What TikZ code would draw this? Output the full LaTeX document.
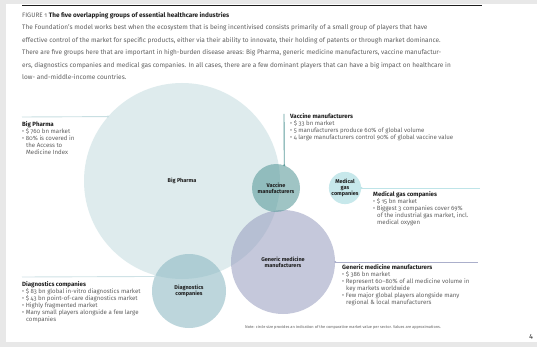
\documentclass[tikz,border=0pt]{standalone}
\usepackage{fontspec}
\setmainfont{Fira Sans}[Numbers=OldStyle]
\usetikzlibrary{positioning}
\definecolor{pagegray}{RGB}{232,232,232}
\definecolor{bpfill}{RGB}{200,223,226}
\definecolor{vacfill}{RGB}{95,158,158}
\definecolor{gasfill}{RGB}{190,228,232}
\definecolor{genfill}{RGB}{150,155,190}
\definecolor{diafill}{RGB}{135,182,192}
\definecolor{bodytext}{RGB}{95,95,95}
\definecolor{headtext}{RGB}{30,30,30}

\begin{document}
\begin{tikzpicture}[x=1pt,y=-1pt,
    bubble/.style={circle,inner sep=0pt,align=center,text=headtext,
      font=\bfseries\fontsize{5.5}{6}\selectfont},
    info/.style={anchor=north west,align=left,inner sep=0pt,text=bodytext,
      font=\fontsize{6.1}{7}\selectfont},
    lead/.style={line width=0.9pt},
    tip/.style={circle,fill,inner sep=0pt,minimum size=2.4pt}]
    % page
    \fill[pagegray] (0,0) rectangle (537,347);
    \fill[white] (6,4) rectangle (537,342);
    \draw[headtext,line width=0.8pt] (22,5) -- (482,5);
    % header
    \node[anchor=north west,inner sep=0pt,text=bodytext,font=\fontsize{6.4}{12.5}\selectfont] (fig) at (22,12)
      {FIGURE 1 {\bfseries\color{headtext}The five overlapping groups of essential healthcare industries}};
    \node[anchor=north west,inner sep=0pt,align=left,text=bodytext,font=\fontsize{6.5}{12.5}\selectfont] (intro) at (22,24.5)
      {The Foundation’s model works best when the ecosystem that is being incentivised consists primarily of a small group of players that have\\
       effective control of the market for specific products, either via their ability to innovate, their holding of patents or through market dominance.\\
       There are five groups here that are important in high-burden disease areas: Big Pharma, generic medicine manufacturers, vaccine manufactur-\\
       ers, diagnostics companies and medical gas companies. In all cases, there are a few dominant players that can have a big impact on healthcare in\\
       low- and-middle-income countries.};
    % circles
    \node[bubble,fill=bpfill,fill opacity=0.6,text opacity=1,minimum size=196pt] (bp) at (182,181) {Big Pharma};
    \node[bubble,fill=genfill,fill opacity=0.55,text opacity=1,minimum size=104pt] (gen) at (283,262) {Generic medicine\\manufacturers};
    \node[bubble,fill=diafill,fill opacity=0.55,text opacity=1,minimum size=74pt] (dia) at (189,291) {Diagnostics\\companies};
    \node[bubble,fill=vacfill,fill opacity=0.6,text opacity=1,minimum size=48pt] (vac) at (276,188) {Vaccine\\manufacturers};
    \node[bubble,fill=gasfill,fill opacity=0.85,text opacity=1,minimum size=31pt] (gas) at (345,188) {Medical\\gas\\companies};
    % leader lines
    \coordinate (bpEnd) at (22,117);
    \coordinate (vacEnd) at (284,114);
    \coordinate (gasEnd) at (480,188);
    \coordinate (genEnd) at (478,262);
    \coordinate (diaEnd) at (22,277);
    \draw[lead,bpfill] (bpEnd) -- (bp.139.5) node[tip] {};
    \draw[lead,vacfill] (vacEnd) -- (vac.70.5) node[tip] {};
    \draw[lead,gasfill] (gas.east) node[tip] {} -- (gasEnd);
    \draw[lead,genfill!80] (gen.east) node[tip] {} -- (genEnd);
    \draw[lead,diafill!40] (diaEnd) -- (dia.157.8) node[tip] {};
    % texts
    \node[info] (bpInfo) at (22,121)
      {{\bfseries\color{headtext}Big Pharma}\\
       \textbullet\ \$ 760 bn market\\
       \textbullet\ 80\% is covered in\\
       \hspace*{4pt}the Access to\\
       \hspace*{4pt}Medicine Index};
    \node[info] (vacInfo) at (290,113)
      {{\bfseries\color{headtext}Vaccine manufacturers}\\
       \textbullet\ \$ 33 bn market\\
       \textbullet\ 5 manufacturers produce 60\% of global volume\\
       \textbullet\ 4 large manufacturers control 90\% of global vaccine value};
    \node[info] (gasInfo) at (373,191)
      {{\bfseries\color{headtext}Medical gas companies}\\
       \textbullet\ \$ 15 bn market\\
       \textbullet\ Biggest 3 companies cover 69\%\\
       \hspace*{4pt}of the industrial gas market, incl.\\
       \hspace*{4pt}medical oxygen};
    \node[info] (genInfo) at (342,264)
      {{\bfseries\color{headtext}Generic medicine manufacturers}\\
       \textbullet\ \$ 386 bn market\\
       \textbullet\ Represent 60–80\% of all medicine volume in\\
       \hspace*{4pt}key markets worldwide\\
       \textbullet\ Few major global players alongside many\\
       \hspace*{4pt}regional \& local manufacturers};
    \node[info] (diaInfo) at (22,281)
      {{\bfseries\color{headtext}Diagnostics companies}\\
       \textbullet\ \$ 83 bn global in-vitro diagnostics market\\
       \textbullet\ \$ 43 bn point-of-care diagnostics market\\
       \textbullet\ Highly fragmented market\\
       \textbullet\ Many small players alongside a few large\\
       \hspace*{4pt}companies};
    \node[anchor=west,inner sep=0pt,text=bodytext,font=\fontsize{3.9}{4}\selectfont] (note) at (245,327)
      {Note: circle size provides an indication of the comparative market value per sector. Values are approximations.};
    \node[anchor=east,inner sep=0pt,text=headtext,font=\fontsize{7}{8}\selectfont] (pageno) at (533,337) {4};
\end{tikzpicture}
\end{document}
